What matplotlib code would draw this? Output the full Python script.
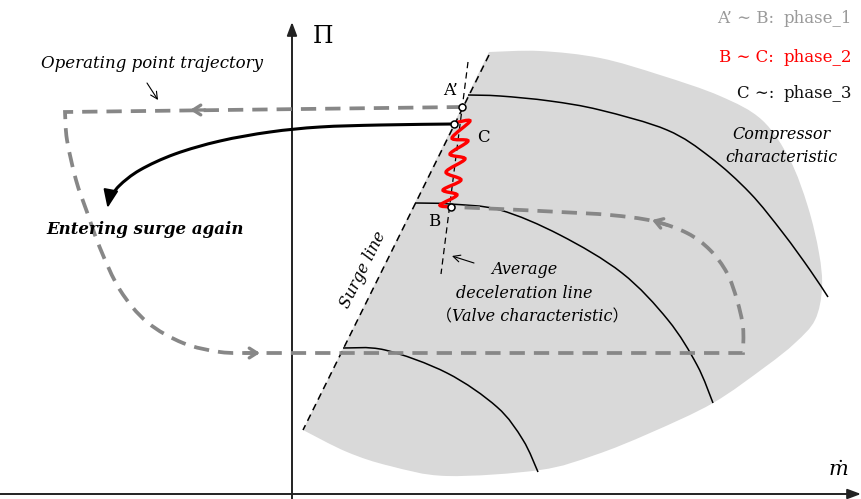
import numpy as np
import matplotlib
matplotlib.use("Agg")
import matplotlib.pyplot as plt
from matplotlib.path import Path
from matplotlib.patches import PathPatch

plt.rcParams['lines.scale_dashes'] = False
plt.rcParams['mathtext.fontset'] = 'dejavuserif'

# ---- schematic data (pixel space of the reference, y downward) ----
map_outline = [(489, 52), (540, 51), (600, 58), (660, 75), (720, 96), (762, 120), (790, 160),
               (808, 207), (819, 253), (822, 288), (815, 320), (795, 343), (765, 367),
               (713, 403), (650, 433), (595, 455), (540, 470), (447, 476), (390, 466),
               (347, 452), (303, 430)]
speed_line_hi = [(468, 95), (500, 96), (550, 101), (600, 110), (667, 130), (710, 157),
                 (750, 193), (783, 233), (810, 270), (828, 297)]
speed_line_mid = [(415, 203), (450, 204), (500, 210), (560, 235), (622, 273), (668, 320),
                  (697, 365), (713, 403)]
speed_line_lo = [(343, 348), (385, 350), (447, 373), (497, 407), (523, 440), (538, 472)]
surge_line = [(489, 55), (303, 430)]
valve_line = [(468, 62), (441, 274)]
traj_top = [(462, 107), (65, 112)]
traj_left = [(65, 112), (67, 140), (76, 180), (87, 212), (100, 248), (120, 290), (147, 322),
             (183, 343), (220, 352), (250, 353)]
traj_bottom = [(250, 353), (743, 353)]
traj_right = [(743, 353), (743, 327), (737, 300), (727, 273), (710, 250), (687, 233),
              (653, 221), (610, 215), (560, 212), (500, 209), (453, 207)]
traj_arrows = [((205, 110), (190, 110)), ((245, 353), (260, 353)), ((667, 225), (652, 220))]
phase2_wiggle = [(454, 123), (470, 121), (452, 138), (468, 141), (450, 154), (465, 159),
                 (446, 172), (461, 180), (443, 190), (457, 195), (440, 205), (451, 207)]
phase3_curve = [(454, 124), (380, 125), (320, 127), (270, 132), (220, 141), (175, 154),
                (140, 170), (119, 186), (109, 200)]
state_points = {"A’": (462, 107), "C": (454, 124), "B": (451, 207)}
legend_keys = ["A’ ∼ B:", "B ∼ C:", "C ∼:"]
legend_vals = ["phase_1", "phase_2", "phase_3"]
legend_colors = ["#9a9a9a", "#ff0000", "#111111"]

GRAY = "#878787"


def smooth(pts):
    P = np.asarray(pts, float)
    Q = np.vstack([P[0], P, P[-1]])
    verts = [Q[1]]
    codes = [Path.MOVETO]
    for i in range(1, len(Q) - 2):
        p0, p1, p2, p3 = Q[i - 1], Q[i], Q[i + 1], Q[i + 2]
        verts += [p1 + (p2 - p0) / 6, p2 - (p3 - p1) / 6, p2]
        codes += [Path.CURVE4] * 3
    return verts, codes


def join(segments, close=False):
    verts, codes = [], []
    for k, (v, c) in enumerate(segments):
        if k > 0:
            c = [Path.LINETO] + c[1:]
        verts += list(v)
        codes += list(c)
    if close:
        verts.append(verts[0])
        codes.append(Path.CLOSEPOLY)
    return Path(np.array(verts), codes)


fig = plt.figure(figsize=(8.61, 4.99), dpi=100)
ax = fig.add_axes([0, 0, 1, 1])
ax.set_xlim(0, 861)
ax.set_ylim(499, 0)
ax.axis('off')

# compressor map region: smooth outline closed along the surge line
region = join([smooth(map_outline), smooth([map_outline[-1], map_outline[0]])], close=True)
ax.add_patch(PathPatch(region, facecolor="#d9d9d9", edgecolor='none', zorder=1))

# speed lines
for line in (speed_line_hi, speed_line_mid, speed_line_lo):
    ax.add_patch(PathPatch(join([smooth(line)]), facecolor='none', edgecolor='black', lw=1.1, zorder=3))

# surge line and valve line
sx, sy = zip(*surge_line)
ax.plot(sx, sy, color='black', lw=1.1, ls=(0, (5, 3.5)), zorder=3)
vx, vy = zip(*valve_line)
ax.plot(vx, vy, color='black', lw=0.9, ls=(0, (4.5, 3)), zorder=3)

# axes
ax.annotate('', xy=(292, 22), xytext=(292, 499),
            arrowprops=dict(arrowstyle='-|>,head_length=0.8,head_width=0.3', lw=1.4, color='#222222',
                            shrinkA=0, shrinkB=0), zorder=4)
ax.annotate('', xy=(861, 494), xytext=(0, 494),
            arrowprops=dict(arrowstyle='-|>,head_length=0.8,head_width=0.3', lw=1.4, color='#222222',
                            shrinkA=0, shrinkB=0), zorder=4)

# operating point trajectory (dashed)
traj = join([smooth(traj_top), smooth(traj_left), smooth(traj_bottom), smooth(traj_right)])
ax.add_patch(PathPatch(traj, facecolor='none', edgecolor=GRAY, lw=2.7, ls=(0, (11, 6.5)),
                       capstyle='butt', joinstyle='miter', zorder=5))
for tail, tip in traj_arrows:
    ax.annotate('', xy=tip, xytext=tail,
                arrowprops=dict(arrowstyle='->,head_length=0.55,head_width=0.35', lw=2.4, color=GRAY,
                                shrinkA=0, shrinkB=0), zorder=5)

# phase 2 wiggle
ax.add_patch(PathPatch(join([smooth(phase2_wiggle)]), facecolor='none', edgecolor='#ff0000', lw=2.4,
                       zorder=6))

# phase 3 curve with arrow
ax.add_patch(PathPatch(join([smooth(phase3_curve)]), facecolor='none', edgecolor='black', lw=2.2, zorder=6))
ax.annotate('', xy=(107.5, 208), xytext=phase3_curve[-1],
            arrowprops=dict(arrowstyle='-|>,head_length=1.1,head_width=0.45', lw=1.5, color='black',
                            shrinkA=0, shrinkB=0), zorder=6)

# state points
for name, (px, py) in state_points.items():
    ax.plot(px, py, 'o', ms=5, mfc='white', mec='black', mew=1.1, zorder=7)

SERIF = ['DejaVu Serif', 'Noto Sans CJK JP']
ax.text(451, 90, "A’", fontsize=12, family=SERIF, ha='center', va='center', zorder=8)
ax.text(483, 137, "C", fontsize=12, family=SERIF, ha='center', va='center', zorder=8)
ax.text(434, 221, "B", fontsize=12, family=SERIF, ha='center', va='center', zorder=8)

ax.text(323, 36, "Π", fontsize=17, family=SERIF, ha='center', va='center')
ax.text(838, 470, r"$\dot{m}$", fontsize=15, ha='center', va='center')

ax.text(152, 63, "Operating point trajectory", fontsize=12, style='italic', family=SERIF,
        ha='center', va='center')
ax.annotate('', xy=(158, 100), xytext=(147, 83),
            arrowprops=dict(arrowstyle='->,head_length=0.5,head_width=0.25', lw=0.8, color='black',
                            shrinkA=0, shrinkB=0))
ax.text(145, 230, "Entering surge again", fontsize=12, style='italic', weight='bold', family=SERIF,
        ha='center', va='center', zorder=8)
ax.text(781, 146, "Compressor\ncharacteristic", fontsize=11.5, style='italic', family=SERIF,
        ha='center', va='center', linespacing=1.45, zorder=8)
ax.text(363, 270, "Surge line", fontsize=11.5, style='italic', family=SERIF, rotation=63.5,
        rotation_mode='anchor', ha='center', va='center', zorder=8)
ax.text(524, 269, "Average", fontsize=11.5, style='italic', family=SERIF, ha='center', va='center', zorder=8)
ax.text(524, 293, "deceleration line", fontsize=11.5, style='italic', family=SERIF, ha='center',
        va='center', zorder=8)
ax.text(532, 317, "（Valve characteristic）", fontsize=11.5, style='italic', family=SERIF, ha='center',
        va='center', zorder=8)
ax.annotate('', xy=(452, 256), xytext=(474, 263),
            arrowprops=dict(arrowstyle='->,head_length=0.5,head_width=0.25', lw=0.8, color='black',
                            shrinkA=0, shrinkB=0), zorder=8)

# phase legend
for i, (k, val, col) in enumerate(zip(legend_keys, legend_vals, legend_colors)):
    y = [18, 57, 93][i]
    ax.text(774, y, k, fontsize=12, family=SERIF, color=col, ha='right', va='center')
    ax.text(784, y, val, fontsize=12, family=SERIF, color=col, ha='left', va='center')

fig.savefig("out.png", dpi=100)
